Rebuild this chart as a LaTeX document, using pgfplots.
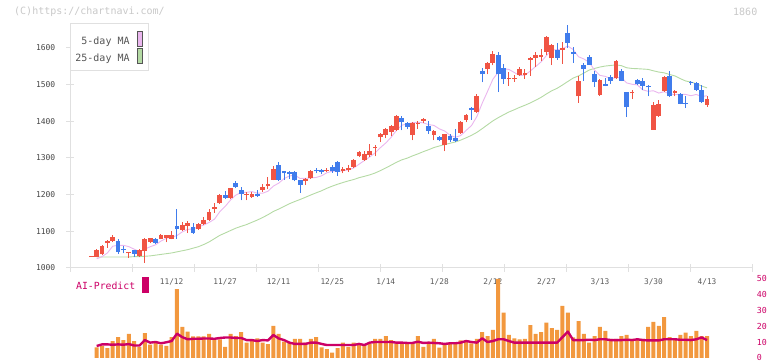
\documentclass[border=0pt]{standalone}
\usepackage{fontspec}
\setmonofont{DejaVu Sans Mono}
\usepackage{pgfplots}
\usepackage{pgfplotstable}
\pgfplotsset{compat=1.18}

\definecolor{cred}{RGB}{240,84,68}
\definecolor{cblue}{RGB}{64,124,236}
\definecolor{maf}{RGB}{234,182,238}
\definecolor{mat}{RGB}{180,218,164}
\definecolor{axisgray}{RGB}{224,224,224}
\definecolor{volorange}{RGB}{242,152,62}
\definecolor{aimag}{RGB}{204,0,102}
\definecolor{tickgray}{RGB}{70,70,70}
\definecolor{dategray}{RGB}{90,90,90}
\definecolor{leggray}{RGB}{85,85,85}
\definecolor{wmgray}{RGB}{200,200,200}

\pgfplotstableread{
i o h l c
0 1031 1033 1030 1032
1 1031 1052 1030 1048
2 1037 1062 1035 1060
3 1067 1075 1055 1073
4 1073 1089 1071 1084
7 1040 1043 1028 1042
9 1034 1052 1031 1050
10 1045 1081 1014 1078
11 1071 1083 1069 1081
13 1080 1092 1078 1089
14 1082 1091 1070 1089
15 1080 1100 1078 1091
17 1104 1125 1101 1117
18 1115 1127 1095 1123
20 1106 1122 1104 1119
21 1119 1138 1117 1130
22 1130 1160 1128 1153
23 1162 1176 1151 1167
24 1176 1203 1174 1198
26 1191 1219 1189 1217
29 1199 1206 1184 1201
30 1194 1208 1191 1201
32 1212 1229 1207 1220
33 1224 1248 1214 1228
34 1241 1279 1239 1271
40 1236 1246 1226 1243
41 1244 1268 1242 1263
44 1263 1272 1261 1268
47 1263 1276 1258 1271
48 1268 1280 1262 1273
49 1275 1298 1273 1293
50 1304 1318 1302 1316
51 1294 1318 1292 1311
52 1307 1339 1303 1320
53 1326 1336 1304 1328
54 1356 1367 1343 1365
55 1363 1382 1353 1380
56 1371 1390 1361 1388
57 1375 1417 1373 1415
60 1362 1397 1348 1395
61 1392 1400 1380 1394
62 1400 1409 1395 1407
64 1363 1376 1348 1374
66 1336 1366 1318 1365
69 1368 1400 1366 1398
70 1404 1420 1397 1418
72 1425 1475 1423 1470
74 1542 1562 1528 1560
75 1560 1592 1552 1583
78 1516 1534 1497 1519
79 1515 1525 1508 1518
80 1526 1547 1524 1543
81 1526 1541 1516 1532
82 1567 1575 1524 1573
83 1573 1590 1548 1580
84 1576 1598 1565 1580
85 1590 1632 1580 1630
86 1571 1611 1553 1609
88 1595 1615 1556 1599
91 1468 1522 1450 1511
95 1471 1516 1469 1513
98 1518 1567 1516 1565
101 1476 1484 1460 1479
105 1377 1452 1377 1445
106 1414 1459 1412 1448
107 1482 1522 1480 1520
109 1477 1486 1468 1482
115 1445 1470 1440 1461
}\upT

\pgfplotstableread{
i o h l c
5 1073 1078 1039 1044
6 1053 1059 1040 1048
8 1048 1049 1031 1039
12 1078 1083 1066 1068
16 1114 1160 1080 1106
19 1111 1122 1094 1096
25 1200 1211 1188 1191
27 1231 1238 1218 1221
28 1212 1220 1184 1201
31 1203 1212 1193 1196
35 1282 1289 1238 1241
36 1263 1264 1241 1258
37 1261 1264 1243 1256
38 1261 1264 1236 1239
39 1239 1241 1205 1226
42 1268 1272 1258 1263
43 1266 1270 1255 1261
45 1276 1280 1260 1264
46 1288 1292 1252 1261
58 1409 1415 1375 1397
59 1395 1398 1378 1385
63 1388 1400 1366 1373
65 1357 1360 1345 1348
67 1361 1364 1343 1348
68 1355 1379 1343 1346
71 1437 1440 1404 1430
73 1537 1545 1506 1528
76 1580 1590 1479 1528
77 1546 1555 1502 1516
87 1595 1613 1568 1573
89 1640 1663 1599 1613
90 1590 1601 1559 1583
92 1553 1558 1511 1542
93 1575 1580 1553 1553
94 1529 1538 1494 1506
96 1502 1518 1495 1497
97 1521 1527 1502 1511
99 1538 1541 1509 1511
100 1479 1481 1411 1438
102 1513 1516 1498 1502
103 1511 1518 1486 1497
104 1497 1499 1468 1492
108 1522 1538 1466 1468
110 1475 1477 1446 1448
111 1449 1468 1436 1447
112 1507 1510 1500 1503
113 1505 1508 1483 1485
114 1484 1498 1450 1452
}\downT

\pgfplotstableread{
i m
1 1025
2 1031
3 1041
4 1059.4
5 1061.8
6 1061.8
7 1058.2
8 1051.4
9 1044.6
10 1051.4
11 1058
12 1063.2
13 1073.2
14 1081
15 1083.6
16 1088.6
17 1098.4
18 1105.2
19 1106.6
20 1112.2
21 1117
22 1124.2
23 1133
24 1153.4
25 1167.8
26 1185.2
27 1198.8
28 1205.6
29 1206.2
30 1208.2
31 1204
32 1203.8
33 1209.2
34 1223.2
35 1231.2
36 1243.6
37 1250.8
38 1253
39 1244
40 1244.4
41 1245.4
42 1246.8
43 1251.2
44 1259.6
45 1263.8
46 1263.4
47 1265
48 1267.4
49 1272.4
50 1282.8
51 1292.8
52 1302.6
53 1313.6
54 1328
55 1340.8
56 1356.2
57 1375.2
58 1389
59 1393
60 1396
61 1397.2
62 1395.6
63 1390.8
64 1388.6
65 1379.2
66 1373.4
67 1361.6
68 1356.2
69 1361
70 1375
71 1388
72 1412.4
73 1448.8
74 1481.2
75 1514.2
76 1533.8
77 1543
78 1541.2
79 1532.8
80 1524.8
81 1525.6
82 1537
83 1549.2
84 1561.6
85 1579
86 1594.4
87 1594.4
88 1598.2
89 1604.8
90 1595.4
91 1575.8
92 1569.6
93 1560.4
94 1539
95 1525
96 1522.2
97 1516
98 1518.4
99 1519.4
100 1504.4
101 1500.8
102 1499
103 1485.4
104 1481.6
105 1483
106 1476.8
107 1480.4
108 1474.6
109 1472.6
110 1473.2
111 1473
112 1469.6
113 1473
114 1467
115 1469.6
}\maFive

\pgfplotstableread{
i m
1 1030
2 1030
3 1030
4 1030
5 1030
6 1030
7 1030
8 1031
9 1031
10 1032
11 1033
12 1035
13 1037
14 1039
15 1041
16 1044
17 1047
18 1050
19 1054
20 1058
21 1064
22 1071
23 1080
24 1089
25 1095.4
26 1102.1
27 1108.6
28 1113.7
29 1118.4
30 1124.6
31 1130.6
32 1137.7
33 1145.2
34 1154.1
35 1160.6
36 1167.7
37 1175.2
38 1181.2
39 1186.7
40 1192.8
41 1199
42 1204.9
43 1210.4
44 1217.3
45 1223.1
46 1228.3
47 1233
48 1237.3
49 1241.1
50 1246.1
51 1249.8
52 1253.8
53 1258.9
54 1265.4
55 1272.6
56 1280.3
57 1288.1
58 1294.8
59 1299.4
60 1305.6
61 1311
62 1317
63 1322.4
64 1328.3
65 1332.5
66 1336.6
67 1340
68 1343.4
69 1348.6
70 1354.8
71 1361.5
72 1369.5
73 1379.7
74 1390.4
75 1401
76 1409.7
77 1417.6
78 1425.2
79 1431.3
80 1437.8
81 1443.6
82 1449.9
83 1457.2
84 1465
85 1474.4
86 1483
87 1489.7
88 1498.7
89 1508.3
90 1517.7
91 1523.5
92 1531.3
93 1539.6
94 1543.9
95 1547.7
96 1550.4
97 1552
98 1553.5
99 1551.5
100 1545.7
101 1543.8
102 1543.2
103 1542.3
104 1541.3
105 1537.4
106 1534
107 1531.9
108 1527.4
109 1523.5
110 1516.2
111 1509.7
112 1506.9
113 1502.4
114 1495.9
115 1491
}\maTwentyFive

\pgfplotstableread{
i v a
1 6.7 7.5
2 7.5 8.5
3 6.2 8.5
4 10.6 8.3
5 13.1 8.5
6 11.2 8.3
7 15 8.7
8 10.6 7.8
9 7 7.8
10 15.6 11.2
11 8.3 9.6
12 9.6 10
13 8.3 9.2
14 7.5 9.8
15 13.1 10.6
16 43.1 15.2
17 19.4 13
18 16.5 11.7
19 13.5 12
20 13.5 12
21 13.5 12.2
22 15 12.2
23 11.7 12
24 11.7 12.5
25 6.9 12.8
26 15 12.8
27 13.7 12.5
28 16.2 12.5
29 9.6 11.2
30 11.2 11.2
31 12.3 10.6
32 9.6 11.2
33 8.7 11
34 20 14.4
35 15 12.2
36 10.2 11.2
37 9.6 9.6
38 11.9 8.8
39 11.9 8.8
40 9.6 8.8
41 11.9 9.6
42 13.1 9.6
43 6.7 8.8
44 5.6 8.1
45 3.3 8.1
46 6.2 8.1
47 9.6 8.1
48 6.9 8.1
49 9.6 8.1
50 8.7 8.8
51 8.3 8.1
52 8.7 9.6
53 11.9 10
54 11.9 10
55 13.7 10
56 11.1 10
57 9.1 9.6
58 9.1 9.6
59 9.1 9.4
60 9.1 9.4
61 13.7 10.2
62 6.9 9.4
63 9.1 9.6
64 11.9 9.4
65 6.5 9.2
66 9.1 8.8
67 9.1 9.2
68 9.1 9.2
69 11 9.6
70 11.1 10.6
71 9.1 10
72 11.9 9.6
73 16.2 12.3
74 13.7 10
75 17.5 10.6
76 49.4 11.7
77 28.3 11.7
78 14.4 10.6
79 12.3 9.6
80 11.7 9.6
81 11.9 9.6
82 20.6 9.6
83 15 9.6
84 16.2 9.6
85 22.1 9.6
86 18.7 9.6
87 17.5 9.6
88 32.5 13
89 28.3 16.5
90 12.9 11.2
91 23.1 11.2
92 15 11.2
93 9.6 11.4
94 13.7 11.2
95 19.4 11.7
96 16.9 11.7
97 11.9 11.2
98 11.9 11.2
99 13.7 11.2
100 14.4 11.4
101 11.9 11.2
102 11.9 11.7
103 11.9 11.2
104 19.4 11
105 22.5 11
106 20 11
107 25.6 11.7
108 13.1 11.7
109 11.9 11.7
110 14.4 11.4
111 15.9 11.4
112 13.7 11.2
113 16.9 11.7
114 13.7 12.8
115 13.7 11.2
}\volT

\tikzset{datelbl/.style={anchor=base, yshift=-16.5pt, inner sep=0pt, text=dategray, font=\ttfamily\fontsize{7.8}{8}\selectfont}}

\begin{document}
\begin{tikzpicture}[x=1pt,y=1pt]
\path[use as bounding box] (0,0) rectangle (772,361);

% main price axis
\begin{axis}[
  at={(70pt,93pt)}, anchor=south west, scale only axis,
  width=682pt, height=244pt,
  xmin=-3.98, xmax=123.4, ymin=1000, ymax=1665,
  clip=false,
  axis x line*=bottom, axis y line*=left,
  axis line style={draw=axisgray, line width=1pt},
  tick style={draw=axisgray, line width=1pt},
  tick align=center, major tick length=8pt,
  xtick={-3.98,7.6,19.18,30.76,42.34,53.92,65.5,77.08,88.66,100.24,111.82,123.4},
  xticklabels={},
  ytick={1000,1100,1200,1300,1400,1500,1600},
  yticklabels={1000,1100,1200,1300,1400,1500,1600},
  yticklabel style={font=\ttfamily\fontsize{8}{8}\selectfont, text=tickgray, inner sep=0pt, anchor=east, xshift=-10.5pt},
]
\addplot[mat, line width=0.9pt] table[x=i, y=m] {\maTwentyFive};
\addplot[maf, line width=0.9pt] table[x=i, y=m] {\maFive};
% wicks
\addplot[draw=none, mark=none, error bars/.cd, y dir=plus, y explicit, error mark=none,
  error bar style={draw=cred, line width=1pt}]
  table[x=i, y=l, y error expr=\thisrow{h}-\thisrow{l}] {\upT};
\addplot[draw=none, mark=none, error bars/.cd, y dir=plus, y explicit, error mark=none,
  error bar style={draw=cblue, line width=1pt}]
  table[x=i, y=l, y error expr=\thisrow{h}-\thisrow{l}] {\downT};
% bodies
\addplot[draw=none, mark=none, error bars/.cd, y dir=plus, y explicit, error mark=none,
  error bar style={draw=cred, line width=4.8pt}]
  table[x=i, y=o, y error expr={max(\thisrow{c}-\thisrow{o},2.7)}] {\upT};
\addplot[draw=none, mark=none, error bars/.cd, y dir=plus, y explicit, error mark=none,
  error bar style={draw=cblue, line width=4.8pt}]
  table[x=i, y=c, y error expr={max(\thisrow{o}-\thisrow{c},2.7)}] {\downT};
% date labels
\node[datelbl] at (axis cs:15,1000) {11/12};
\node[datelbl] at (axis cs:25,1000) {11/27};
\node[datelbl] at (axis cs:35,1000) {12/11};
\node[datelbl] at (axis cs:45,1000) {12/25};
\node[datelbl] at (axis cs:55,1000) {1/14};
\node[datelbl] at (axis cs:65,1000) {1/28};
\node[datelbl] at (axis cs:75,1000) {2/12};
\node[datelbl] at (axis cs:85,1000) {2/27};
\node[datelbl] at (axis cs:95,1000) {3/13};
\node[datelbl] at (axis cs:105,1000) {3/30};
\node[datelbl] at (axis cs:115,1000) {4/13};
\end{axis}

% volume axis
\begin{axis}[
  at={(70pt,3pt)}, anchor=south west, scale only axis,
  width=682pt, height=80pt,
  xmin=-3.98, xmax=123.4, ymin=0, ymax=50,
  axis x line=none, axis y line*=right,
  y axis line style={draw=none},
  ytick={0,10,20,30,40,50},
  yticklabels={\raisebox{1.8pt}{0},10,20,30,40,50},
  major tick length=0pt, ytick style={draw=none},
  yticklabel style={font=\ttfamily\fontsize{8.3}{8}\selectfont, text=aimag, inner sep=0pt, anchor=west, xshift=4.7pt},
]
\addplot[ybar, bar width=4pt, bar shift=0pt, fill=volorange, draw=none] table[x=i, y=v] {\volT};
\addplot[aimag, line width=2.4pt, line join=round] table[x=i, y=a] {\volT};
\end{axis}

% legend box of the price chart
\draw[axisgray, line width=1pt, fill=white] (70.3,290) rectangle (148.3,337);
\node[anchor=base east, inner sep=0pt, text=leggray, font=\ttfamily\fontsize{10}{10}\selectfont] at (129.8,316.7) {5-day MA};
\node[anchor=base east, inner sep=0pt, text=leggray, font=\ttfamily\fontsize{10}{10}\selectfont] at (129.8,299.3) {25-day MA};
\draw[leggray, line width=0.8pt, fill=maf] (137,314.5) rectangle (142.6,329.8);
\draw[leggray, line width=0.8pt, fill=mat] (137,297.9) rectangle (142.6,312.6);

% AI-Predict legend
\node[anchor=base west, inner sep=0pt, text=aimag, font=\ttfamily\fontsize{9.8}{10}\selectfont] at (76,71) {AI-Predict};
\fill[aimag] (142.3,68.3) rectangle (148.7,83.7);

% watermark texts
\node[anchor=west, inner sep=0pt, text=wmgray, font=\ttfamily\fontsize{10}{10}\selectfont] at (14,349) {(C)https://chartnavi.com/};
\node[anchor=west, inner sep=0pt, text=wmgray, font=\ttfamily\fontsize{10}{10}\selectfont] at (733,349) {1860};
\end{tikzpicture}
\end{document}
